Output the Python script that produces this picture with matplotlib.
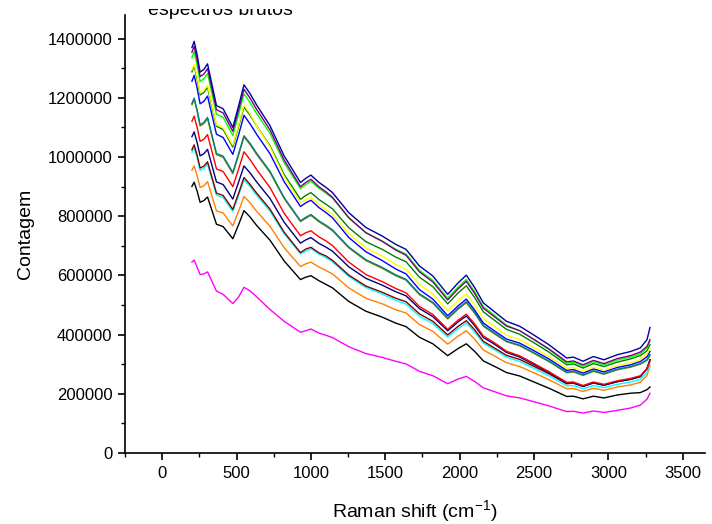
import matplotlib
matplotlib.use("Agg")
import matplotlib.pyplot as plt
from matplotlib.ticker import MultipleLocator
from matplotlib.patches import Rectangle

plt.rcParams['font.family'] = ['Liberation Sans', 'DejaVu Sans']
plt.rcParams['mathtext.fontset'] = 'custom'
plt.rcParams['mathtext.rm'] = 'Liberation Sans'
plt.rcParams['mathtext.it'] = 'Liberation Sans'

# Raman shift grid (cm^-1)
shift = [200, 215, 235, 255, 280, 305, 365, 410, 475, 515, 550, 590, 635, 725, 820, 930,
         965, 1000, 1055, 1100, 1145, 1255, 1370, 1480, 1570, 1640, 1730, 1820, 1920,
         1990, 2045, 2100, 2160, 2230, 2315, 2405, 2495, 2600, 2720, 2765, 2830, 2900,
         2970, 3060, 3150, 3215, 3260, 3280]

# counts, in thousands
navy = [1370, 1391, 1345, 1287, 1296, 1315, 1174, 1163, 1100, 1175, 1244, 1215, 1176, 1106, 1004, 914,
        928, 939, 914, 898, 880, 812, 762, 733, 705, 688, 632, 598, 536,
        575, 601, 560, 507, 479, 445, 428, 400, 366, 321, 324, 310, 326,
        315, 332, 343, 355, 383, 424]
purple = [1354, 1374, 1329, 1272, 1280, 1299, 1160, 1149, 1087, 1161, 1229, 1200, 1161, 1092, 990, 900,
          914, 925, 899, 883, 864, 795, 744, 715, 686, 668, 612, 578, 517,
          555, 580, 540, 489, 462, 429, 413, 385, 352, 308, 311, 298, 313,
          302, 319, 329, 341, 360, 383]
green = [1336, 1356, 1311, 1255, 1264, 1282, 1145, 1134, 1073, 1146, 1213, 1185, 1147, 1080, 981, 893,
         907, 918, 894, 878, 861, 794, 745, 716, 689, 672, 617, 583, 523,
         561, 586, 546, 494, 467, 432, 413, 385, 350, 304, 307, 293, 308,
         298, 314, 324, 335, 355, 377]
yellow = [1295, 1314, 1271, 1216, 1225, 1243, 1109, 1099, 1040, 1110, 1176, 1147, 1105, 1034, 934, 845,
          856, 864, 839, 823, 806, 741, 693, 665, 637, 621, 569, 537, 480,
          515, 538, 501, 454, 429, 398, 383, 357, 326, 286, 289, 276, 290,
          280, 295, 305, 316, 335, 355]
dkgreen = [1288, 1308, 1264, 1210, 1218, 1236, 1104, 1093, 1034, 1105, 1169, 1142, 1105, 1038, 941, 857,
           870, 880, 856, 841, 825, 761, 714, 688, 662, 646, 594, 562, 504,
           541, 565, 526, 477, 450, 418, 401, 374, 341, 298, 301, 287, 302,
           292, 307, 318, 329, 345, 366]
blue = [1256, 1276, 1233, 1180, 1188, 1206, 1077, 1066, 1009, 1077, 1141, 1113, 1077, 1011, 917, 833,
        845, 854, 829, 813, 795, 728, 680, 650, 622, 605, 552, 520, 464,
        497, 520, 484, 439, 414, 385, 371, 347, 318, 279, 282, 270, 284,
        274, 289, 298, 309, 325, 343]
teal = [1181, 1199, 1159, 1109, 1117, 1134, 1012, 1003, 948, 1013, 1072, 1047, 1013, 952, 863, 785,
        796, 806, 784, 770, 754, 696, 653, 627, 602, 587, 538, 509, 456,
        489, 511, 476, 431, 407, 378, 364, 340, 311, 273, 276, 264, 278,
        268, 283, 292, 302, 315, 332]
olive = [1177, 1195, 1155, 1105, 1113, 1130, 1008, 999, 944, 1009, 1068, 1043, 1009, 948, 860, 782,
         793, 803, 781, 767, 751, 693, 650, 624, 599, 584, 535, 506, 453,
         486, 508, 473, 428, 404, 376, 362, 338, 309, 271, 274, 262, 276,
         266, 281, 290, 300, 313, 329]
red = [1121, 1138, 1100, 1053, 1060, 1076, 960, 951, 900, 961, 1018, 992, 958, 897, 810, 734,
       744, 751, 730, 717, 701, 645, 603, 579, 556, 541, 495, 468, 418,
       449, 469, 437, 395, 374, 344, 328, 304, 275, 239, 240, 228, 240,
       232, 244, 252, 261, 285, 310]
navy2 = [1069, 1085, 1049, 1004, 1011, 1026, 916, 907, 858, 917, 970, 947, 916, 860, 780, 709,
         720, 728, 708, 696, 682, 629, 590, 567, 545, 531, 488, 461, 413,
         443, 463, 431, 390, 369, 340, 324, 300, 272, 236, 237, 225, 237,
         229, 241, 249, 258, 285, 315]
maroon = [1025, 1041, 1006, 963, 969, 984, 878, 870, 823, 879, 931, 908, 878, 824, 746, 677,
          689, 695, 676, 666, 651, 601, 564, 543, 523, 511, 470, 445, 399,
          428, 447, 417, 377, 356, 330, 316, 294, 268, 234, 236, 225, 237,
          229, 241, 249, 258, 285, 315]
cyan = [1017, 1032, 998, 955, 962, 976, 871, 863, 816, 872, 923, 901, 871, 817, 741, 673,
        682, 690, 672, 660, 646, 596, 559, 537, 516, 503, 462, 437, 392,
        420, 439, 409, 371, 350, 324, 309, 287, 261, 227, 228, 217, 228,
        221, 232, 240, 249, 272, 298]
orange = [955, 970, 937, 897, 903, 917, 818, 811, 767, 819, 867, 846, 817, 766, 694, 630,
          639, 645, 628, 617, 605, 558, 523, 504, 484, 473, 434, 411, 368,
          395, 413, 385, 348, 329, 305, 292, 272, 248, 217, 218, 208, 219,
          212, 223, 230, 239, 262, 293]
black = [901, 915, 885, 847, 853, 865, 773, 765, 724, 773, 819, 798, 769, 719, 649, 586,
         594, 599, 582, 570, 558, 512, 479, 459, 439, 427, 391, 369, 329,
         353, 369, 344, 311, 294, 272, 260, 241, 219, 191, 192, 183, 192,
         186, 196, 202, 204, 214, 223]
magenta = [645, 652, 628, 603, 605, 612, 547, 536, 505, 528, 560, 548, 528, 485, 445, 408,
           413, 419, 405, 398, 390, 359, 336, 323, 310, 301, 276, 261, 234,
           250, 259, 242, 220, 208, 193, 186, 174, 159, 140, 141, 135, 142,
           137, 144, 152, 162, 182, 202]

series = [
    (magenta, '#FF00FF'),
    (black, '#000000'),
    (orange, '#FF8000'),
    (cyan, '#00FFFF'),
    (maroon, '#800000'),
    (navy2, '#000080'),
    (red, '#FF0000'),
    (olive, '#808000'),
    (teal, '#008080'),
    (blue, '#0000FF'),
    (dkgreen, '#008000'),
    (yellow, '#FFFF00'),
    (green, '#00FF00'),
    (purple, '#800080'),
    (navy, '#0000A0'),
]

fig = plt.figure(figsize=(7.12, 5.24), dpi=100)
ax = fig.add_axes([125 / 712, 1 - 453 / 524, (705 - 125) / 712, (453 - 15) / 524])

for vals, col in series:
    ax.plot(shift, [v * 1000 for v in vals], color=col, lw=1.0)

ax.set_xlim(-250, 3650)
ax.set_ylim(0, 1480000)
ax.xaxis.set_minor_locator(MultipleLocator(250))
ax.yaxis.set_minor_locator(MultipleLocator(100000))
ax.set_xticks([0, 500, 1000, 1500, 2000, 2500, 3000, 3500])
ax.set_xticklabels(['0', '500', '1000', '1500', '2000', '2500', '3000', '3500'])
ax.set_yticks([0, 200000, 400000, 600000, 800000, 1000000, 1200000, 1400000])
ax.set_yticklabels(['0', '200000', '400000', '600000', '800000', '1000000', '1200000', '1400000'])

for s in ['top', 'right']:
    ax.spines[s].set_visible(False)
for s in ['left', 'bottom']:
    ax.spines[s].set_linewidth(1.2)
ax.tick_params(which='major', direction='out', length=5, width=1.2, labelsize=12, pad=4)
ax.tick_params(which='minor', direction='out', length=3, width=1.0)

ax.set_xlabel('Raman shift (cm$^{-1}$)', fontsize=14, labelpad=13)
ax.set_ylabel('Contagem', fontsize=14, labelpad=10)

fig.text(148 / 712, 1 - 15 / 524, 'espectros brutos', fontsize=14, va='baseline', ha='left',
         zorder=1)
# the reference shows only the lower part of this title
fig.patches.append(Rectangle((0, 1 - 9 / 524), 1, 9 / 524, transform=fig.transFigure,
                             facecolor='white', edgecolor='none', zorder=5))

fig.savefig('out.png', dpi=100)
